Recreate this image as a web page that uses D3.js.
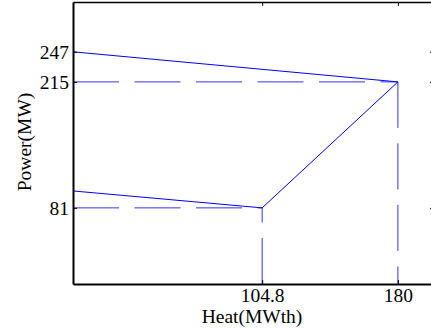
<!DOCTYPE html>
<meta charset="utf-8">
<style>
body { margin: 0; background: #fff; }
svg { display: block; font-family: "Liberation Serif", "Times New Roman", serif; }
.axis text { font-size: 19.5px; fill: #000; font-family: "Liberation Serif", serif; }
.axis path, .axis line { stroke: #000; }
.curve { fill: none; stroke: #0000ff; stroke-width: 1; }
.guide { fill: none; stroke: #3333ff; stroke-width: 1; stroke-dasharray: 46,15.5; }
.label { font-size: 19.5px; fill: #000; }
</style>
<svg width="431" height="336"></svg>
<script src="https://cdn.jsdelivr.net/npm/d3@7"></script>
<script>

// operating region corners, walked in order
var heat = [0, 180, 104.8, 0],
    power = [247, 215, 81, 99];

// dashed guides: [heat, power] from -> to
var guides = [
  [[0, 215], [180, 215]],
  [[180, 215], [180, 0]],
  [[0, 81], [104.8, 81]],
  [[104.8, 0], [104.8, 81]]
];

var xTicks = [104.8, 180],
    yTicks = [81, 215, 247];

var svg = d3.select("svg"),
    margin = {top: 2, left: 73, right: 434, bottom: 284};

var x = d3.scaleLinear().domain([0, 200]).range([margin.left, margin.right]);
var y = d3.scaleLinear().domain([0, 300]).range([margin.bottom, margin.top]);

var line = d3.line()
    .x(function(d) { return x(d[0]); })
    .y(function(d) { return y(d[1]); });

svg.append("g")
    .selectAll("path")
    .data(guides)
    .enter().append("path")
      .attr("class", "guide")
      .attr("d", line);

svg.append("path")
    .attr("class", "curve")
    .attr("d", line(heat.map(function(h, i) { return [h, power[i]]; })));

// top and right: ticks only
svg.append("g")
    .attr("class", "axis")
    .attr("transform", "translate(0," + margin.top + ")")
    .call(d3.axisTop(x).tickValues(xTicks).tickSizeInner(-4).tickSizeOuter(0).tickFormat(""))
    .select(".domain").attr("stroke-width", 1.5);

svg.append("g")
    .attr("class", "axis")
    .attr("transform", "translate(" + margin.right + ",0)")
    .call(d3.axisRight(y).tickValues(yTicks).tickSizeInner(-4).tickSizeOuter(0).tickFormat(""));

svg.append("g")
    .attr("class", "axis")
    .attr("transform", "translate(0," + margin.bottom + ")")
    .call(d3.axisBottom(x).tickValues(xTicks).tickSizeInner(-4).tickSizeOuter(0).tickPadding(4).tickFormat(function(d) { return d; }))
    .select(".domain").attr("stroke-width", 2);

svg.append("g")
    .attr("class", "axis")
    .attr("transform", "translate(" + margin.left + ",0)")
    .call(d3.axisLeft(y).tickValues(yTicks).tickSizeInner(-4).tickSizeOuter(0).tickPadding(4))
    .select(".domain").attr("stroke-width", 2);

svg.append("text")
    .attr("class", "label")
    .attr("x", 252)
    .attr("y", 323)
    .attr("text-anchor", "middle")
    .text("Heat(MWth)");

svg.append("text")
    .attr("class", "label")
    .attr("transform", "translate(31,142) rotate(-90)")
    .attr("text-anchor", "middle")
    .text("Power(MW)");

</script>
